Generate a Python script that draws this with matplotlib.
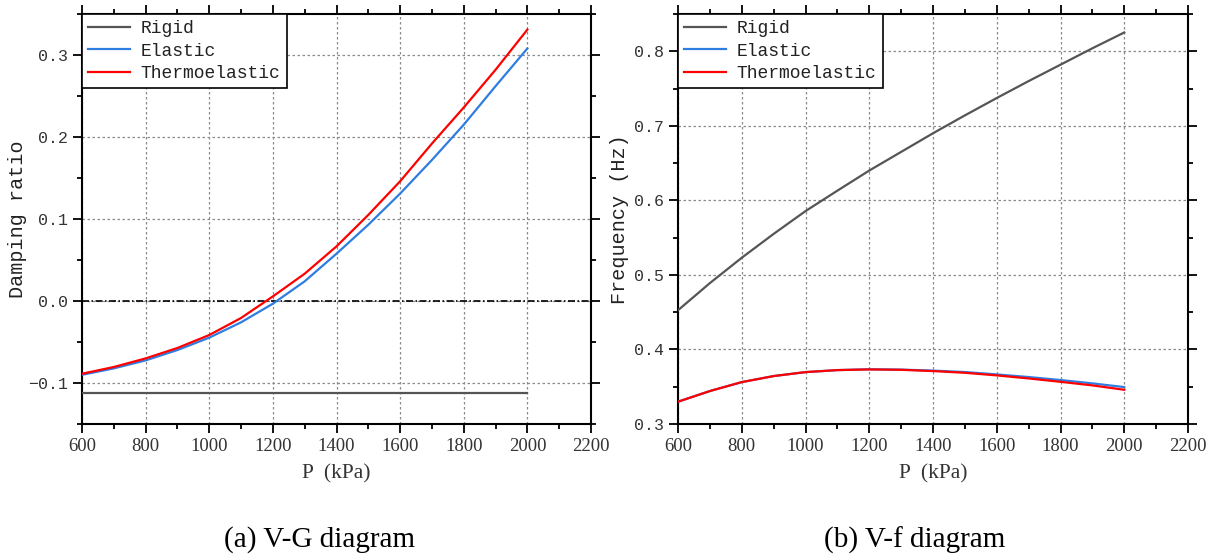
import matplotlib
matplotlib.use("Agg")
import matplotlib.pyplot as plt
from matplotlib.ticker import MultipleLocator, FuncFormatter

# ---------------- data ----------------
P = [600, 700, 800, 900, 1000, 1100, 1200, 1300, 1400, 1500, 1600, 1700, 1800, 1900, 2000]

damp_rigid = [-0.112] * 15
damp_elastic = [-0.090, -0.0822, -0.0724, -0.0598, -0.0447, -0.026, -0.0033, 0.024,
                0.0577, 0.093, 0.131, 0.172, 0.215, 0.262, 0.308]
damp_thermo = [-0.0887, -0.0805, -0.070, -0.0573, -0.0415, -0.0207, 0.0056, 0.0333,
               0.0666, 0.105, 0.146, 0.192, 0.236, 0.282, 0.331]

freq_rigid = [0.4526, 0.489, 0.523, 0.555, 0.5856, 0.613, 0.640, 0.665, 0.690,
              0.714, 0.7373, 0.760, 0.782, 0.804, 0.8252]
freq_elastic = [0.3299, 0.3442, 0.3562, 0.3643, 0.3696, 0.3723, 0.3734, 0.3730, 0.3716,
                0.3697, 0.3665, 0.3630, 0.3590, 0.3545, 0.3495]
freq_thermo = [0.3299, 0.3442, 0.3562, 0.3643, 0.3696, 0.3723, 0.3732, 0.3727, 0.3710,
               0.3687, 0.3652, 0.3611, 0.3566, 0.3518, 0.3459]

labels = ["Rigid", "Elastic", "Thermoelastic"]
colors = ["#555555", "#2f7de1", "#ff0000"]
xticks = [600, 800, 1000, 1200, 1400, 1600, 1800, 2000, 2200]
captions = ["(a) V-G diagram", "(b) V-f diagram"]

MONO = "Liberation Mono"
SERIF = "Liberation Serif"

fig = plt.figure(figsize=(12.15, 5.56), dpi=100)
ax1 = fig.add_axes([82 / 1215, 1 - 424 / 556, 509 / 1215, 410 / 556])
ax2 = fig.add_axes([678 / 1215, 1 - 424 / 556, 510 / 1215, 410 / 556])


def ytickfmt(v, pos):
    s = f"{v:.1f}"
    return s.replace("-", "\u2212")


def style(ax, ylim, ymaj, ymin, ylabel, labelpad):
    ax.set_xlim(600, 2200)
    ax.set_ylim(*ylim)
    ax.set_xticks(xticks)
    ax.xaxis.set_minor_locator(MultipleLocator(100))
    ax.yaxis.set_major_locator(MultipleLocator(ymaj))
    ax.yaxis.set_minor_locator(MultipleLocator(ymin))
    ax.yaxis.set_major_formatter(FuncFormatter(ytickfmt))
    ax.tick_params(which="both", direction="out", top=True, right=True, width=1.3, color="black")
    ax.tick_params(which="major", length=6.5)
    ax.tick_params(which="minor", length=3.5)
    for lab in ax.get_xticklabels():
        lab.set_fontfamily(SERIF)
        lab.set_fontsize(13.5)
        lab.set_color("#333333")
    for lab in ax.get_yticklabels():
        lab.set_fontfamily(MONO)
        lab.set_fontsize(12)
        lab.set_color("#333333")
    for sp in ax.spines.values():
        sp.set_linewidth(1.5)
    ax.grid(True, which="major", linestyle=(0, (2, 2)), color="#8a8a8a", linewidth=0.9)
    ax.set_axisbelow(True)
    ax.set_xlabel("P  (kPa)", fontfamily=SERIF, fontsize=15.5, color="#333333", labelpad=7)
    ax.set_ylabel(ylabel, fontfamily=MONO, fontsize=14.5, color="#222222", labelpad=labelpad)


ax1.axhline(0.0, color="black", linewidth=1.2, linestyle=(0, (4.2, 1.5, 0.9, 1.5)), zorder=2)
for ys, lab, c in zip([damp_rigid, damp_elastic, damp_thermo], labels, colors):
    ax1.plot(P, ys, color=c, linewidth=1.6, label=lab, zorder=3)
for ys, lab, c in zip([freq_rigid, freq_elastic, freq_thermo], labels, colors):
    ax2.plot(P, ys, color=c, linewidth=1.6, label=lab, zorder=3)

style(ax1, (-0.15, 0.35), 0.1, 0.05, "Damping ratio", 1)
style(ax2, (0.3, 0.85), 0.1, 0.05, "Frequency (Hz)", 4)

for ax in (ax1, ax2):
    leg = ax.legend(loc="upper left", borderaxespad=0, fancybox=False, framealpha=1,
                    edgecolor="black", handlelength=2.3, handletextpad=0.6,
                    labelspacing=0.3, borderpad=0.35,
                    prop={"family": MONO, "size": 13})
    leg.get_frame().set_linewidth(1.2)
    for t in leg.get_texts():
        t.set_color("#222222")

fig.text(320 / 1215, 1 - 540 / 556, captions[0], ha="center", va="center",
         fontfamily=SERIF, fontsize=21)
fig.text(915 / 1215, 1 - 540 / 556, captions[1], ha="center", va="center",
         fontfamily=SERIF, fontsize=21)

fig.savefig("out.png", dpi=100)
